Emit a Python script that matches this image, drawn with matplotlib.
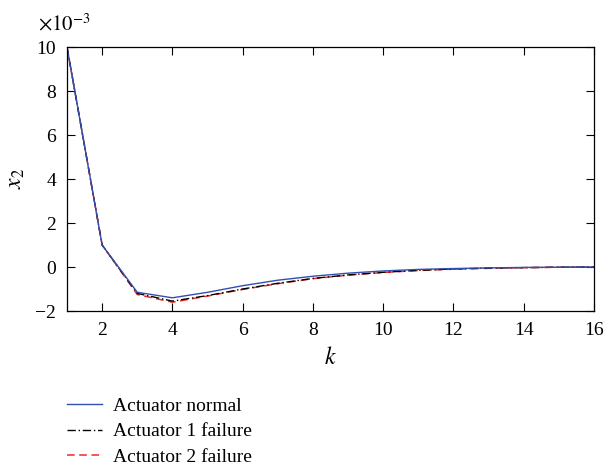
import matplotlib
matplotlib.use("Agg")
import matplotlib.pyplot as plt
from matplotlib.lines import Line2D

plt.rcParams['font.family'] = ['Liberation Serif', 'DejaVu Serif']
plt.rcParams['mathtext.fontset'] = 'stix'

k = list(range(1, 17))
normal = [10, 1.0, -1.15, -1.4, -1.15, -0.85, -0.6, -0.42, -0.28, -0.18, -0.11, -0.07, -0.04, -0.02, -0.01, 0.0]
fail1 = [10, 1.0, -1.2, -1.55, -1.3, -1.0, -0.74, -0.52, -0.36, -0.24, -0.15, -0.09, -0.05, -0.03, -0.01, 0.0]
fail2 = [10, 1.0, -1.25, -1.6, -1.32, -1.02, -0.76, -0.53, -0.37, -0.25, -0.16, -0.1, -0.06, -0.03, -0.01, 0.0]
xticks = [2, 4, 6, 8, 10, 12, 14, 16]
yticks = [-2, 0, 2, 4, 6, 8, 10]
labels = ['Actuator normal', 'Actuator 1 failure', 'Actuator 2 failure']

W, H = 604, 470
fig = plt.figure(figsize=(W/100, H/100), dpi=100)
L, R, T, B = 67, 594, 47, 311
ax = fig.add_axes([L/W, 1-B/H, (R-L)/W, (B-T)/H])

ax.plot(k, fail2, color='#ee2a2a', linestyle=(0, (5, 3)), lw=1.1)
ax.plot(k, fail1, color='black', linestyle=(0, (6, 2, 1, 2)), lw=1.0)
ax.plot(k, normal, color='#3050b0', linestyle='-', lw=1.0)

ax.set_xlim(1, 16)
ax.set_ylim(-2, 10)
ax.set_xticks(xticks)
ax.set_yticks(yticks)
ax.tick_params(direction='in', top=True, right=True, labelsize=14, length=6, pad=8)
for s in ax.spines.values():
    s.set_linewidth(0.9)
ax.set_xlabel('$k$', fontsize=17, labelpad=6)
ax.set_ylabel('$x_2$', fontsize=17, labelpad=6)
fig.text(38/W, 1-30/H, r'$\times10^{-3}$', fontsize=15, ha='left', va='baseline')

handles = [Line2D([], [], color='#3050b0', lw=1.0),
           Line2D([], [], color='black', lw=1.0, linestyle=(0, (6, 2, 1, 2))),
           Line2D([], [], color='#ee2a2a', lw=1.1, linestyle=(0, (5, 3)))]
fig.legend(handles, labels, loc='upper left', bbox_to_anchor=(67/W, 1-397/H),
           frameon=False, fontsize=14, handlelength=1.8, labelspacing=0.42,
           handletextpad=0.55, borderpad=0, borderaxespad=0)

fig.savefig('out.png', dpi=100)
